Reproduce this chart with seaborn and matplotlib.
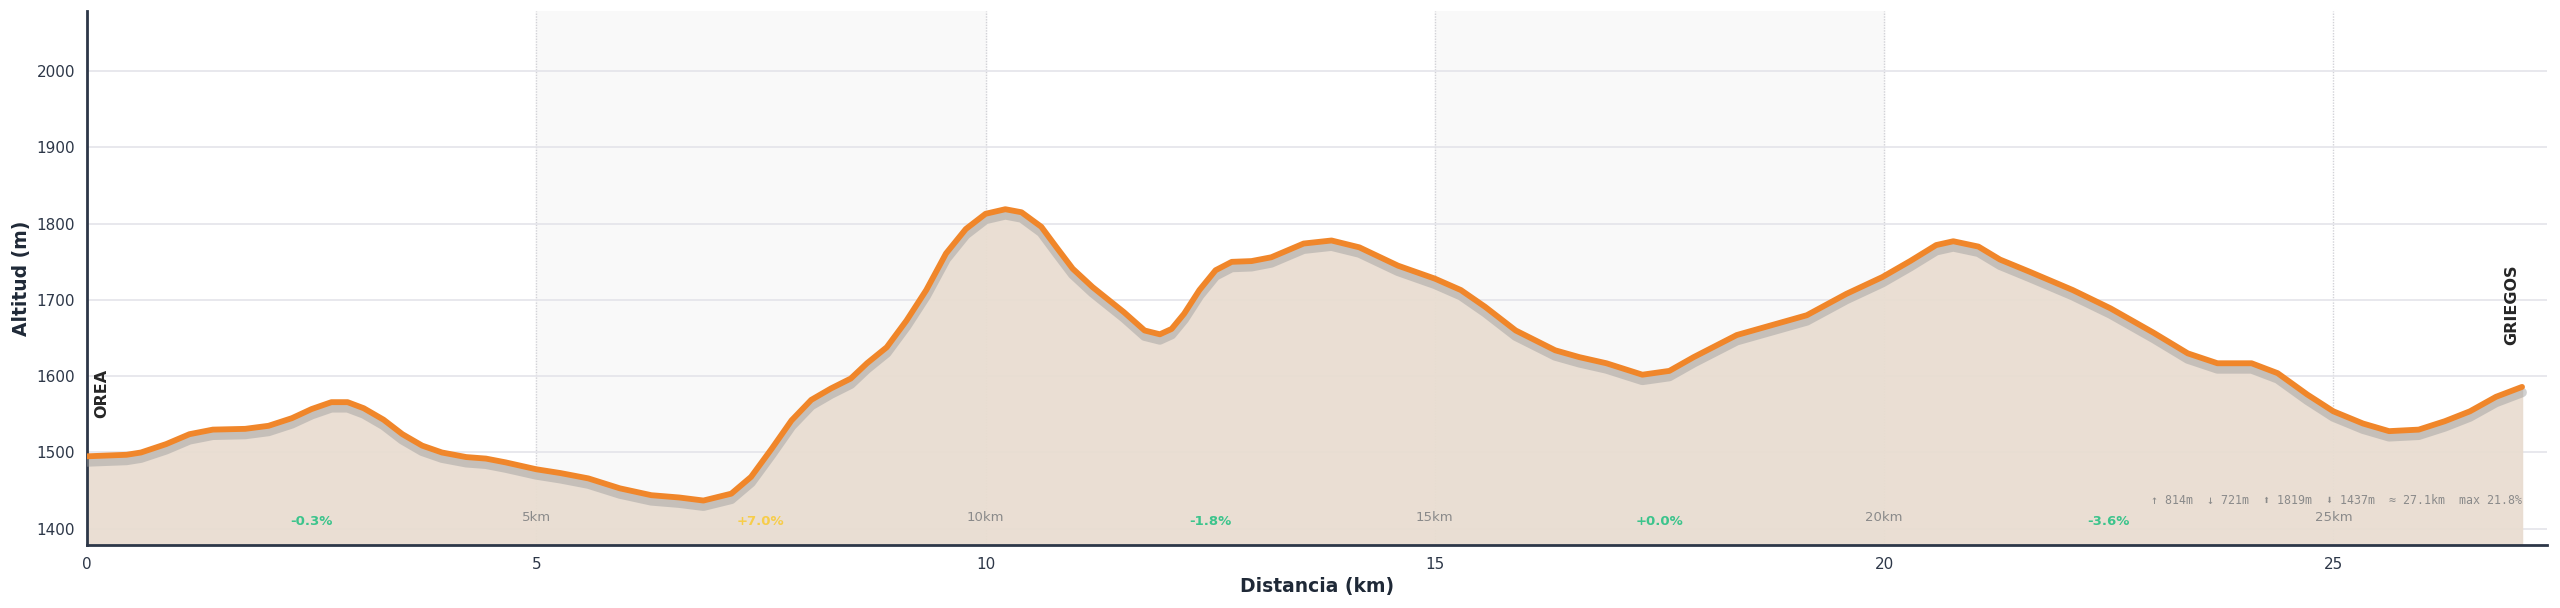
import numpy as np
import pandas as pd
import seaborn as sns
import matplotlib
matplotlib.use('Agg')
import matplotlib.pyplot as plt
import matplotlib.patheffects as pe

# Elevation profile
dist_km = [0.0, 0.44, 0.6, 0.88, 1.14, 1.4, 1.76, 2.02, 2.28, 2.5, 2.72, 2.9, 3.08, 3.3,
           3.51, 3.73, 3.95, 4.22, 4.44, 4.66, 5.0, 5.27, 5.58, 5.93, 6.28, 6.59, 6.86,
           7.17, 7.39, 7.62, 7.84, 8.06, 8.28, 8.5, 8.68, 8.9, 9.12, 9.34, 9.56, 9.78,
           10.0, 10.22, 10.4, 10.62, 10.79, 10.97, 11.19, 11.37, 11.54, 11.77, 11.94,
           12.07, 12.21, 12.38, 12.56, 12.74, 12.96, 13.18, 13.4, 13.54, 13.85, 14.16,
           14.59, 15.0, 15.29, 15.56, 15.9, 16.34, 16.61, 16.91, 17.31, 17.61, 17.88,
           18.36, 18.75, 19.14, 19.58, 19.98, 20.29, 20.58, 20.77, 21.05, 21.29, 21.62,
           22.1, 22.52, 23.0, 23.38, 23.71, 24.09, 24.38, 24.71, 25.0, 25.33, 25.62,
           25.95, 26.24, 26.52, 26.81, 27.1]
elev_m = [1495, 1497, 1500, 1511, 1524, 1530, 1531, 1535, 1545, 1557, 1566, 1566, 1558, 1543,
          1524, 1509, 1500, 1494, 1492, 1487, 1478, 1473, 1466, 1453, 1444, 1441, 1437,
          1446, 1468, 1505, 1542, 1569, 1584, 1597, 1617, 1638, 1673, 1713, 1761, 1793,
          1813, 1819, 1815, 1796, 1769, 1741, 1717, 1700, 1684, 1660, 1655,
          1662, 1682, 1713, 1739, 1750, 1751, 1756, 1767, 1774, 1778, 1769,
          1745, 1728, 1713, 1691, 1660, 1634, 1625, 1617, 1602, 1607, 1625,
          1654, 1667, 1680, 1708, 1730, 1751, 1772, 1777, 1770, 1753, 1737,
          1713, 1689, 1657, 1630, 1617, 1617, 1604, 1576, 1554, 1538, 1528,
          1530, 1541, 1554, 1573, 1586]

# Average slope per 5 km section
slope_km = [2.5, 7.5, 12.5, 17.5, 22.5]
slope_txt = ['-0.3%', '+7.0%', '-1.8%', '+0.0%', '-3.6%']
slope_col = ['#3cc48c', '#f7cd4a', '#3cc48c', '#3cc48c', '#3cc48c']

km_marks = [5, 10, 15, 20, 25]
places = ['OREA', 'GRIEGOS']
stats = '\u2191 814m  \u2193 721m  \u2b06 1819m  \u2b07 1437m  \u2248 27.1km  max 21.8%'

df = pd.DataFrame({'Distancia': dist_km, 'Altitud': elev_m})

sns.set_style('white')
plt.rcParams['font.family'] = ['DejaVu Sans']

fig, ax = plt.subplots(figsize=(25.6, 6.08), dpi=100)
fig.subplots_adjust(left=0.034, right=0.995, top=0.982, bottom=0.104)

ymin, ymax = 1379, 2079
ax.set_xlim(0, 27.38)
ax.set_ylim(ymin, ymax)

# alternating 5 km bands
for a in km_marks[::2][:2]:
    ax.axvspan(a, a + 5, color='#f9f9f9', zorder=0)
for k in km_marks:
    ax.axvline(k, color='#d2d2d7', lw=1, ls=(0, (1, 1)), zorder=0.5)

ax.yaxis.grid(True, color='#e4e4ea', lw=1.2, zorder=0.6)
ax.set_axisbelow(True)

ax.fill_between(df['Distancia'], df['Altitud'], ymin, color='#e9ddd1', alpha=0.95, zorder=1)
sns.lineplot(data=df, x='Distancia', y='Altitud', ax=ax, color='#f0862a', lw=4.2, zorder=3,
             solid_joinstyle='round', solid_capstyle='round',
             path_effects=[pe.SimpleLineShadow(offset=(0, -4), shadow_color='#9a9a9a', alpha=0.45,
                                               linewidth=7), pe.Normal()])

for k in km_marks:
    ax.text(k, 1415, f'{k}km', color='#8a8a8a', fontsize=9.5, ha='center', va='center', zorder=4)
for x, t, c in zip(slope_km, slope_txt, slope_col):
    ax.text(x, 1409, t, color=c, fontsize=9.5, fontweight='bold', ha='center', va='center', zorder=4)

ax.text(dist_km[0] + 0.08, elev_m[0] + 50, places[0], rotation=90, fontsize=11.5,
        fontweight='bold', ha='left', va='bottom', zorder=4)
ax.text(dist_km[-1] - 0.03, elev_m[-1] + 55, places[1], rotation=90, fontsize=11.5,
        fontweight='bold', ha='right', va='bottom', zorder=4)

ax.text(dist_km[-1], 1437, stats, fontsize=8.4, color='#8a8a8a', ha='right', va='center',
        family=['DejaVu Sans Mono', 'DejaVu Sans'], zorder=4)

ax.set_xticks([0, 5, 10, 15, 20, 25])
ax.set_yticks([1400, 1500, 1600, 1700, 1800, 1900, 2000])
ax.tick_params(axis='both', labelsize=11, colors='#2d3748', length=5, width=1.2, direction='out',
               labelcolor='#2d3748')
ax.set_xlabel('Distancia (km)', fontsize=13.5, fontweight='bold', color='#1f2937')
ax.set_ylabel('Altitud (m)', fontsize=13.5, fontweight='bold', color='#1f2937')

sns.despine(ax=ax)
for s in ['left', 'bottom']:
    ax.spines[s].set_color('#2d3748')
    ax.spines[s].set_linewidth(2)

plt.savefig('out.png', dpi=100)
plt.close()
